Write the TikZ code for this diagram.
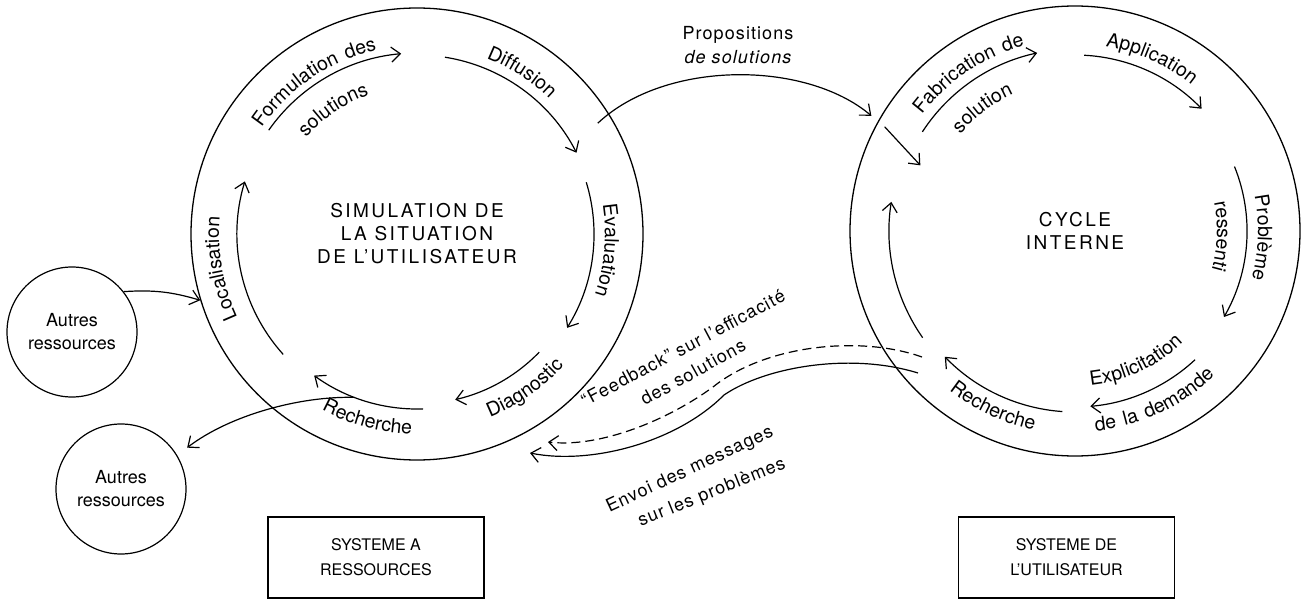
\documentclass[tikz,border=0pt]{standalone}
\usepackage{fontspec}
\setmainfont{TeX Gyre Heros}
\newfontfamily\spacedfont[LetterSpace=13]{TeX Gyre Heros}
\newfontfamily\midfont[LetterSpace=6]{TeX Gyre Heros}
\usetikzlibrary{arrows.meta,decorations.text}

\newcommand\lblfont{\spacedfont\fontsize{19.5}{22}\selectfont}
% label bent along a circle, letters standing outward (path runs clockwise)
\newcommand\cwlabel[4]{%
  \path[decorate,decoration={text along path,text align=center,text={|\lblfont|#4}}]
    ([shift={(#2+50:#3)}]#1) arc[start angle=#2+50, end angle=#2-50, radius=#3];}
% label bent along a circle, letters standing inward (path runs counter-clockwise)
\newcommand\ccwlabel[4]{%
  \path[decorate,decoration={text along path,text align=center,text={|\lblfont|#4}}]
    ([shift={(#2-50:#3)}]#1) arc[start angle=#2-50, end angle=#2+50, radius=#3];}

\begin{document}
\begin{tikzpicture}[x=1pt,y=1pt,
  ring/.style={circle, draw, line width=1.3pt, minimum size=452pt, inner sep=0pt,
    align=center, font=\spacedfont\fontsize{19}{23}\selectfont},
  extra/.style={circle, draw, line width=1.2pt, minimum size=130pt, inner sep=0pt,
    align=center, font=\fontsize{18}{23}\selectfont},
  sysbox/.style={rectangle, draw, line width=1.1pt, minimum width=216pt,
    minimum height=81pt, align=center, font=\fontsize{16}{25}\selectfont},
  cyc/.style={line width=1.2pt, -{Straight Barb[length=9pt,width=15pt,line width=1.2pt]}},
  link/.style={cyc},
  fb/.style={cyc, dash pattern=on 9pt off 5pt},
  caption/.style={font=\midfont\fontsize{18}{24}\selectfont, inner sep=0pt, align=center}]

\useasboundingbox (0,0) rectangle (1308,603);

% the two systems
\node[ring] (res) at (417,369) {SIMULATION DE\\LA SITUATION\\DE L’UTILISATEUR};
\node[ring, minimum size=450pt] (usr) at (1075,372) {CYCLE\\INTERNE};

% outside resources
\node[extra] (aut1) at (72,271) {Autres\\ressources};
\node[extra] (aut2) at (121,114) {Autres\\ressources};

% captions of the systems
\node[sysbox] (sysres) at (376,45.5) {SYSTEME A\\RESSOURCES};
\node[sysbox] (sysusr) at (1066.5,45.5) {SYSTEME DE\\L’UTILISATEUR};

% cycle of the resource system
\draw[cyc] ([shift={(145:181pt)}]res.center) arc[start angle=145, end angle=95, radius=181pt];
\draw[cyc] ([shift={(81:179pt)}]res.center) arc[start angle=81, end angle=27, radius=179pt];
\draw[cyc] ([shift={(17:177pt)}]res.center) arc[start angle=17, end angle=-32, radius=177pt];
\draw[cyc] ([shift={(-44:170pt)}]res.center) arc[start angle=-44, end angle=-77, radius=170pt];
\draw[cyc] ([shift={(-88:175pt)}]res.center) arc[start angle=-88, end angle=-126, radius=175pt];
\draw[cyc] ([shift={(222:180pt)}]res.center) arc[start angle=222, end angle=163, radius=180pt];

\cwlabel{res.center}{124}{188pt}{Formulation des}
\cwlabel{res.center}{124}{147pt}{solutions}
\cwlabel{res.center}{57}{189pt}{Diffusion}
\cwlabel{res.center}{-5}{188pt}{Evaluation}
\ccwlabel{res.center}{-55}{197pt}{Diagnostic}
\ccwlabel{res.center}{-105}{200pt}{Recherche}
\cwlabel{res.center}{190}{198pt}{Localisation}

% internal cycle of the user
\draw[cyc] ([shift={(147:182pt)}]usr.center) arc[start angle=147, end angle=102, radius=182pt];
\draw[cyc] ([shift={(87:176pt)}]usr.center) arc[start angle=87, end angle=44, radius=176pt];
\draw[cyc] ([shift={(22:172pt)}]usr.center) arc[start angle=22, end angle=-30, radius=172pt];
\draw[cyc] ([shift={(-47:176pt)}]usr.center) arc[start angle=-47, end angle=-85, radius=176pt];
\draw[cyc] ([shift={(-94:181pt)}]usr.center) arc[start angle=-94, end angle=-136, radius=181pt];
\draw[cyc] ([shift={(215:186pt)}]usr.center) arc[start angle=215, end angle=171, radius=186pt];

\cwlabel{usr.center}{124}{192pt}{Fabrication de}
\cwlabel{usr.center}{127}{150pt}{solution}
\cwlabel{usr.center}{66}{187pt}{Application}
\cwlabel{usr.center}{-2}{183pt}{Problème}
\cwlabel{usr.center}{-2}{142pt}{ressenti}
\ccwlabel{usr.center}{-65}{155pt}{Explicitation}
\ccwlabel{usr.center}{-65}{201pt}{de la demande}
\ccwlabel{usr.center}{-115}{203pt}{Recherche}

% exchanges between the systems
\coordinate (propA) at ([shift={(31.5:212pt)}]res.center);
\coordinate (propB) at ([shift={(150.5:234pt)}]usr.center);
\draw[link] (propA) .. controls (665,543) and (805,543) .. (propB);
\node[caption] (proplbl) at (738,558) {Propositions\\\itshape de solutions};

\draw[cyc] ([shift={(151.3:217pt)}]usr.center) -- ([shift={(157:168pt)}]usr.center);

\coordinate (fbA) at (922,246);
\coordinate (fbM) at (713,216);
\coordinate (fbB) at (548,161);
\draw[fb] (fbA) .. controls (860,268) and (765,258) .. (fbM)
  .. controls (668,183) and (600,155) .. (fbB);
\node[caption, rotate=28] (fblbl) at (683,255) {“Feedback” sur l’efficacité};
\node[caption, rotate=29] (fblbl2) at (693,231) {des solutions};

\coordinate (envA) at (918,230);
\coordinate (envM) at (724,208);
\coordinate (envB) at (530,150);
\draw[link] (envA) .. controls (850,251) and (765,236) .. (envM)
  .. controls (676,160) and (590,138) .. (envB);
\node[caption, rotate=25] (envlbl) at (690,133) {Envoi des messages};
\node[caption, rotate=22] (envlbl2) at (712,110) {sur les problèmes};

% links with the outside resources
\draw[link] (aut1.38) to[bend left=10] (res.197);
\coordinate (rb) at ([shift={(-111:175pt)}]res.center);
\coordinate (aut2in) at ([shift={(32:78pt)}]aut2.center);
\draw[link] (rb) .. controls (300,207) and (230,188) .. (aut2in);
\end{tikzpicture}
\end{document}
